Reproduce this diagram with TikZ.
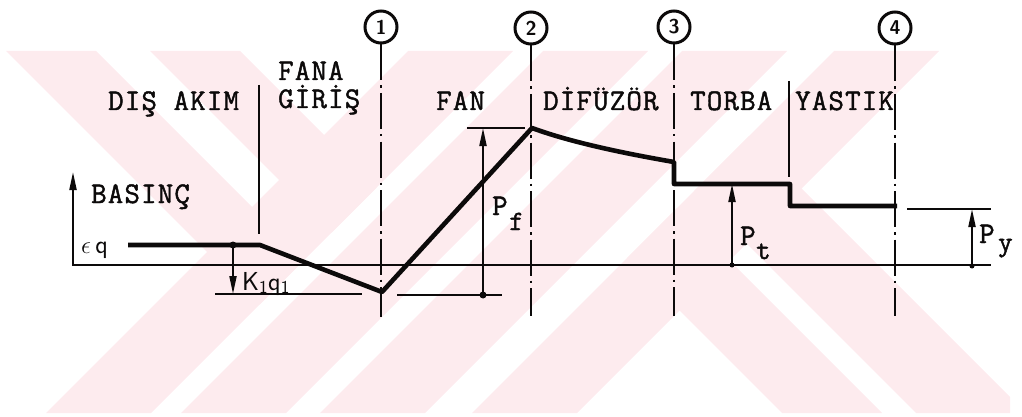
\documentclass[tikz,border=0pt]{standalone}
\usepackage{fontspec}
\newfontfamily\typew[FakeBold=1.5,LetterSpace=4]{Latin Modern Mono}
\usetikzlibrary{arrows.meta}
\definecolor{wmpink}{RGB}{253,235,238}
\definecolor{ink}{RGB}{12,10,10}

\begin{document}
\begin{tikzpicture}[x=1pt,y=-1pt,
  thinline/.style={draw=ink,line width=2pt},
  pressure/.style={draw=ink,line width=4.6pt,line join=round},
  station/.style={draw=ink,line width=2.8pt,dash pattern=on 36pt off 5pt on 2.5pt off 5pt},
  boundary/.style={draw=ink,line width=2.2pt},
  dimarrow/.style={draw=ink,line width=2pt,-{Triangle[length=18pt,width=7pt]}},
  lbl/.style={font=\typew\fontsize{30}{30}\selectfont,text=ink,inner sep=0pt,anchor=base west},
  sub/.style={font=\typew\fontsize{28}{28}\selectfont,text=ink,inner sep=0pt,anchor=base west},
  hand/.style={font=\sffamily\fontsize{26}{26}\selectfont,text=ink,inner sep=0pt,anchor=base west},
  numcircle/.style={circle,draw=ink,line width=3pt,minimum size=32pt,inner sep=0pt,
    font=\sffamily\bfseries\fontsize{20}{20}\selectfont,text=ink},
  dotmark/.style={circle,fill=ink,inner sep=0pt,minimum size=7pt}
]
\useasboundingbox (0,0) rectangle (1022,417);

% background stripes
\begin{scope}
  \clip (5,51) rectangle (1010,413);
  \foreach \a in {408,543,682,834}{
    \fill[wmpink] (\a,51) -- ({\a+105},51) -- ({\a+105-362},413) -- ({\a-362},413) -- cycle;
  }
  \fill[wmpink] (6,51) -- (96,51) -- (304.5,259.5) -- (259.5,304.5) -- cycle;
  \fill[wmpink] (150,51) -- (240,51) -- (376.5,187.5) -- (331.5,232.5) -- cycle;
  \fill[wmpink] (677,208) -- (882,413) -- (782,413) -- (627,258) -- cycle;
  \fill[wmpink] (749,136) -- (1026,413) -- (916,413) -- (694,191) -- cycle;
\end{scope}

% station markers
\node[numcircle] (c1) at (381,27) {1};
\node[numcircle] (c2) at (531,28) {2};
\node[numcircle] (c3) at (674,27) {3};
\node[numcircle] (c4) at (895,28) {4};
\coordinate (s1) at (381,317);
\coordinate (s2) at (531,316);
\coordinate (s3) at (674,316);
\coordinate (s4) at (896,316);
\draw[station] (c1.south) -- (s1);
\draw[station] (c2.south) -- (s2);
\draw[station] (c3.south) -- (s3);
\draw[station] (c4.south) -- (c4.south |- s4);

% region boundaries
\coordinate (b1t) at (259,85);
\coordinate (b1b) at (259,234);
\coordinate (b2t) at (789,81);
\coordinate (b2b) at (789,177);
\draw[boundary] (b1t) -- (b1b);
\draw[boundary] (b2t) -- (b2b);

% region names
\node[lbl] (dis) at (108,110) {DIŞ AKIM};
\node[lbl] (fana) at (278,80) {FANA};
\node[lbl] (giris) at (278,108) {GİRİŞ};
\node[lbl] (fan) at (436,110) {FAN};
\node[lbl] (dif) at (543,110) {DİFÜZÖR};
\node[lbl] (torba) at (690,110) {TORBA};
\node[lbl] (yastik) at (795,110) {YASTIK};

% pressure axis and zero line
\coordinate (ytip) at (73,172);
\coordinate (xend) at (991,265);
\draw[thinline,{Triangle[length=18pt,width=7pt]}-] (ytip) |- (xend);
\node[lbl] (bas) at (91,203) {BASINÇ};
\node[hand] (eq) at (81,253) {$\epsilon$\,\textsf{q}};

% pressure profile
\coordinate (p0) at (128,245);
\coordinate (p1) at (260,245);
\coordinate (pmin) at (382,292);
\coordinate (ppk) at (532,128);
\coordinate (p3a) at (674,162);
\coordinate (p3b) at (674,184);
\coordinate (p4a) at (790,184);
\coordinate (p4b) at (790,206);
\coordinate (pend) at (897,206);
\draw[pressure] (p0) -- (p1) -- (pmin) -- (ppk)
  .. controls (570,142) and (622,153) .. (p3a) -- (p3b) -- (p4a) -- (p4b) -- (pend);

% K1 q1 dimension
\node[dotmark] (dk) at (233,245) {};
\coordinate (kl) at (215,294);
\coordinate (kr) at (362,294);
\draw[thinline] (kl) -- (kr);
\draw[dimarrow] (dk.center) -- (dk.center |- kl);
\node[hand] (kq) at (242,290) {K\textsubscript{1}q\textsubscript{1}};

% fan pressure rise
\node[dotmark] (df) at (483,295) {};
\coordinate (fl) at (397,295);
\coordinate (fr) at (502,295);
\coordinate (ftl) at (467,128);
\coordinate (ftr) at (525,128);
\draw[thinline] (fl) -- (fr);
\draw[thinline] (ftl) -- (ftr);
\draw[dimarrow] (df.center) -- (df.center |- ftl);
\node[lbl] (pf) at (492,215) {P};
\node[sub] (pfs) at (509,230) {f};

% bag pressure
\node[dotmark,minimum size=5pt] (dt) at (732,265) {};
\draw[dimarrow] (dt.center) -- (dt.center |- p3b);
\node[lbl] (pt) at (740,245) {P};
\node[sub] (pts) at (756,259) {t};

% cushion pressure
\node[dotmark,minimum size=5pt] (dy) at (972,266) {};
\coordinate (yl) at (907,209);
\coordinate (yr) at (991,209);
\draw[thinline] (yl) -- (yr);
\draw[dimarrow] (dy.center) -- (dy.center |- yl);
\node[lbl] (py) at (979,243) {P};
\node[sub] (pys) at (998,251) {y};
\end{tikzpicture}
\end{document}
